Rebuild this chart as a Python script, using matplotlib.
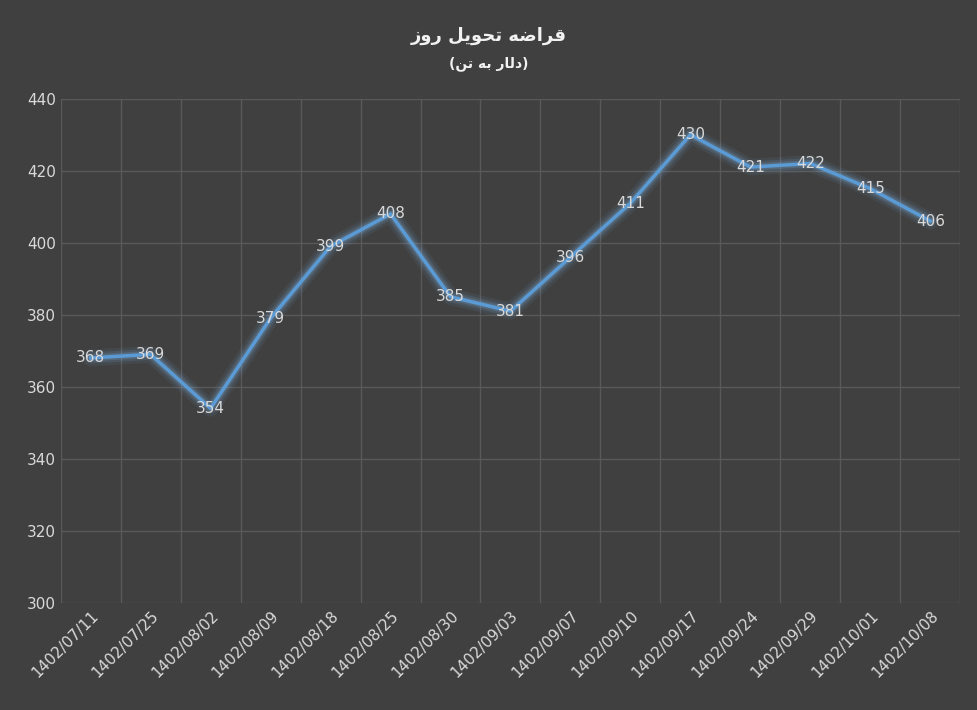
import matplotlib
matplotlib.use("Agg")
import matplotlib.pyplot as plt

dates = ["1402/07/11","1402/07/25","1402/08/02","1402/08/09","1402/08/18","1402/08/25","1402/08/30",
         "1402/09/03","1402/09/07","1402/09/10","1402/09/17","1402/09/24","1402/09/29","1402/10/01","1402/10/08"]
values = [368,369,354,379,399,408,385,381,396,411,430,421,422,415,406]
title1 = "\uFEAF\uFEED\uFEAD \uFEDE\uFEF3\uFEEE\uFEA4\uFE97 \uFEEA\uFEBF\uFE8D\uFEAE\uFED7"
title2 = "(\uFEE6\uFE97 \uFEEA\uFE91 \uFEAD\uFE8E\uFEDF\uFEA9)"

bg = "#404040"
fig = plt.figure(figsize=(9.77, 7.10), dpi=100, facecolor=bg)
ax = fig.add_axes([0.062, 0.151, 0.921, 0.71], facecolor=bg)
x = list(range(len(values)))
for w, a in [(12, 0.08), (8, 0.12), (5, 0.2)]:
    ax.plot(x, values, color="#7fb6ea", lw=w, alpha=a, solid_capstyle="round", solid_joinstyle="round")
ax.plot(x, values, color="#5b9bd5", lw=2.5, solid_joinstyle="round")
for xi, v in zip(x, values):
    ax.text(xi, v, str(v), ha="center", va="center", color="#d9d9d9", fontsize=11)
ax.set_xlim(-0.5, len(values) - 0.5)
ax.set_ylim(300, 440)
ax.set_yticks(range(300, 441, 20))
ax.set_xticks(x)
ax.set_xticks([i + 0.5 for i in range(-1, len(values))], minor=True)
ax.set_xticklabels(dates, rotation=45, ha="right", rotation_mode="anchor")
ax.grid(True, which="major", axis="y", color="#595959", lw=1)
ax.grid(True, which="minor", axis="x", color="#595959", lw=1)
ax.tick_params(which="both", length=0, colors="#d9d9d9", labelsize=11)
for s in ax.spines.values():
    s.set_visible(False)
fig.text(0.5, 0.95, title1, ha="center", va="center", color="#f2f2f2", fontsize=13, fontweight="bold")
fig.text(0.5, 0.91, title2, ha="center", va="center", color="#f2f2f2", fontsize=10, fontweight="bold")
fig.savefig("out.png", facecolor=bg)
